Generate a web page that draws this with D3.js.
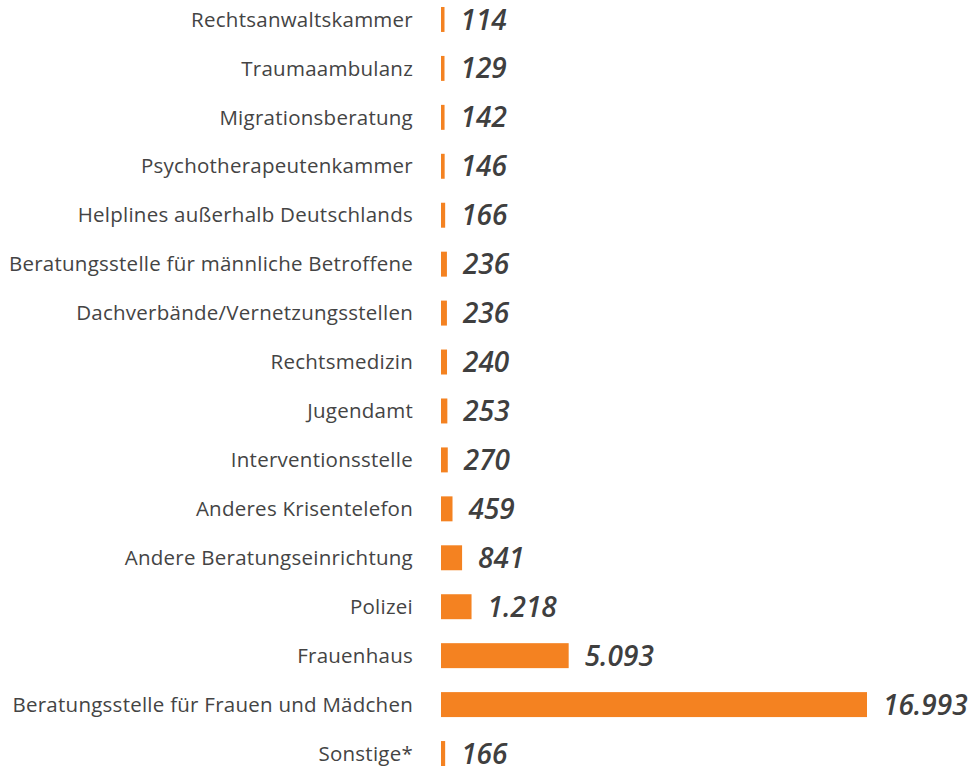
<!DOCTYPE html>
<html>
<head>
<meta charset="utf-8">
<script src="https://cdn.jsdelivr.net/npm/d3@7"></script>
<style>
  html, body { margin: 0; padding: 0; background: #fff; }
  svg { display: block; }
</style>
</head>
<body>
<svg id="chart" width="970" height="766"></svg>
<script>
const categories = [
  "Rechtsanwaltskammer",
  "Traumaambulanz",
  "Migrationsberatung",
  "Psychotherapeutenkammer",
  "Helplines außerhalb Deutschlands",
  "Beratungsstelle für männliche Betroffene",
  "Dachverbände/Vernetzungsstellen",
  "Rechtsmedizin",
  "Jugendamt",
  "Interventionsstelle",
  "Anderes Krisentelefon",
  "Andere Beratungseinrichtung",
  "Polizei",
  "Frauenhaus",
  "Beratungsstelle für Frauen und Mädchen",
  "Sonstige*"
];
const values = [114, 129, 142, 146, 166, 236, 236, 240, 253, 270, 459, 841, 1218, 5093, 16993, 166];

const svg = d3.select("#chart");
const barX0 = 441;

const y = d3.scaleBand()
  .domain(categories)
  .range([-5, 778])
  .paddingInner(0.49)
  .paddingOuter(0.245);

const x = d3.scaleLinear()
  .domain([0, 16993])
  .range([barX0, 867]);

const fmt = v => d3.format(",")(v).replace(/,/g, ".");

const rows = svg.selectAll("g.row")
  .data(categories.map((c, i) => ({ c, v: values[i] })))
  .join("g")
  .attr("class", "row");

rows.append("text")
  .attr("x", 413)
  .attr("y", d => y(d.c) + y.bandwidth() / 2)
  .attr("dy", "0.35em")
  .attr("text-anchor", "end")
  .attr("fill", "#444")
  .style("font-family", "'Open Sans', sans-serif")
  .style("font-size", "20.5px")
  .style("letter-spacing", "0.25px")
  .text(d => d.c);

rows.append("rect")
  .attr("x", x(0))
  .attr("y", d => y(d.c))
  .attr("height", y.bandwidth())
  .attr("width", d => Math.max(3.5, x(d.v) - x(0)))
  .attr("fill", "#f48221");

rows.append("text")
  .attr("x", d => Math.max(x(0) + 3.5, x(d.v)) + 16)
  .attr("y", d => y(d.c) + y.bandwidth() / 2)
  .attr("dy", "0.36em")
  .attr("fill", "#3f3f3f")
  .style("font-family", "'Open Sans', sans-serif")
  .style("font-size", "28px")
  .style("font-weight", "600")
  .style("font-style", "italic")
  .text(d => fmt(d.v));
</script>
</body>
</html>
